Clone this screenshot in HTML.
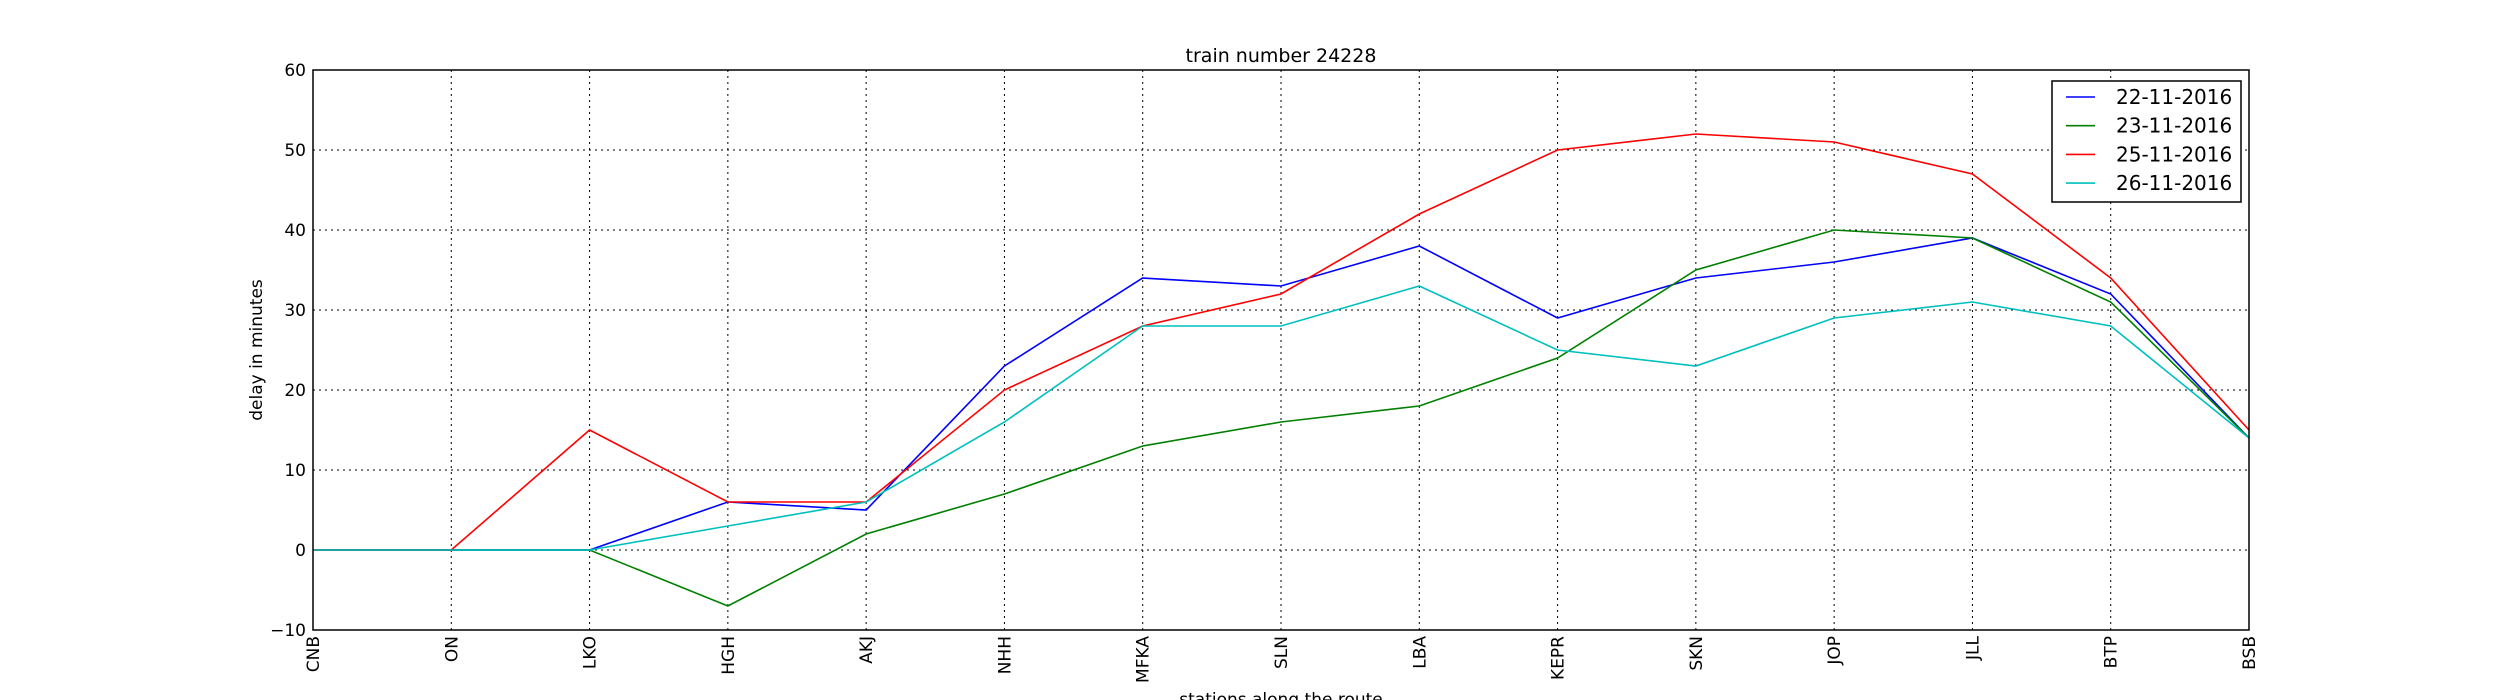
<!DOCTYPE html>
<html><head><meta charset="utf-8"><style>
html,body{margin:0;padding:0;background:#fff;}
svg{display:block;font-family:"DejaVu Sans","Liberation Sans",sans-serif;}
</style></head><body>
<svg id="chart" width="2500" height="700" xmlns="http://www.w3.org/2000/svg">
<rect width="2500" height="700" fill="#fff"/>
<g id="grid"></g>
<g id="series"></g>
<rect x="313" y="70" width="1936" height="560" fill="none" stroke="#000" stroke-width="1.5"/>
<g id="ticks"></g>
<text x="1281" y="62" font-size="19" text-anchor="middle">train number 24228</text>
<text x="1281" y="705" font-size="17" text-anchor="middle">stations along the route</text>
<text transform="translate(262,350) rotate(-90)" font-size="17" text-anchor="middle">delay in minutes</text>
<g id="legend">
<rect x="2052" y="81" width="189" height="121" fill="#fff" stroke="#000" stroke-width="1.5"/>
</g>
</svg>
<script>
const stations = ["CNB","ON","LKO","HGH","AKJ","NHH","MFKA","SLN","LBA","KEPR","SKN","JOP","JLL","BTP","BSB"];
const seriesNames = ["22-11-2016","23-11-2016","25-11-2016","26-11-2016"];
const d22 = [0,0,0,6,5,23,34,33,38,29,34,36,39,32,14];
const d23 = [0,0,0,-7,2,7,13,16,18,24,35,40,39,31,14];
const d25 = [0,0,15,6,6,20,28,32,42,50,52,51,47,34,15];
const d26 = [0,0,0,3,6,16,28,28,33,25,23,29,31,28,14];
const yTicks = [-10,0,10,20,30,40,50,60];
const colors = ["#0000ff","#008000","#ff0000","#00bfbf"];
const NS="http://www.w3.org/2000/svg";
const L=313,R=2249,T=70,B=630,yMin=-10,yMax=60;
const xs=i=>L+(R-L)*i/(stations.length-1);
const ys=v=>B-(v-yMin)/(yMax-yMin)*(B-T);
function mk(tag,attrs,parent){const e=document.createElementNS(NS,tag);for(const k in attrs)e.setAttribute(k,attrs[k]);parent.appendChild(e);return e;}
const grid=document.getElementById('grid'),ticks=document.getElementById('ticks'),ser=document.getElementById('series'),leg=document.getElementById('legend');
stations.forEach((s,i)=>{
  const x=xs(i);
  const g=mk('line',{x1:x,x2:x,y1:T,y2:B,stroke:'#000','stroke-width':1,'stroke-dasharray':'2,4'},grid);
  
  
  const t=mk('text',{transform:`translate(${x+6},${B+6}) rotate(-90)`,'font-size':17,'text-anchor':'end'},ticks);
  t.textContent=s;
  
  
});
yTicks.forEach(v=>{
  const y=ys(v);
  const g=mk('line',{x1:L,x2:R,y1:y,y2:y,stroke:'#000','stroke-width':1,'stroke-dasharray':'2,4'},grid);
  
  
  const t=mk('text',{x:L-7,y:y+6,'font-size':17,'text-anchor':'end'},ticks);
  t.textContent=v<0?'\u2212'+Math.abs(v):String(v);
  
  
});
[d22,d23,d25,d26].forEach((d,k)=>{
  const p=mk('polyline',{points:d.map((v,i)=>xs(i)+','+ys(v)).join(' '),fill:'none',stroke:colors[k],'stroke-width':1.6},ser);
  
  
  const y=97+k*28.7;
  const l=mk('line',{x1:2066,x2:2095,y1:y,y2:y,stroke:colors[k],'stroke-width':1.6},leg);
  
  
  const t=mk('text',{x:2116,y:y+7,'font-size':20},leg);
  t.textContent=seriesNames[k];
  
  
});
</script>
</body></html>
